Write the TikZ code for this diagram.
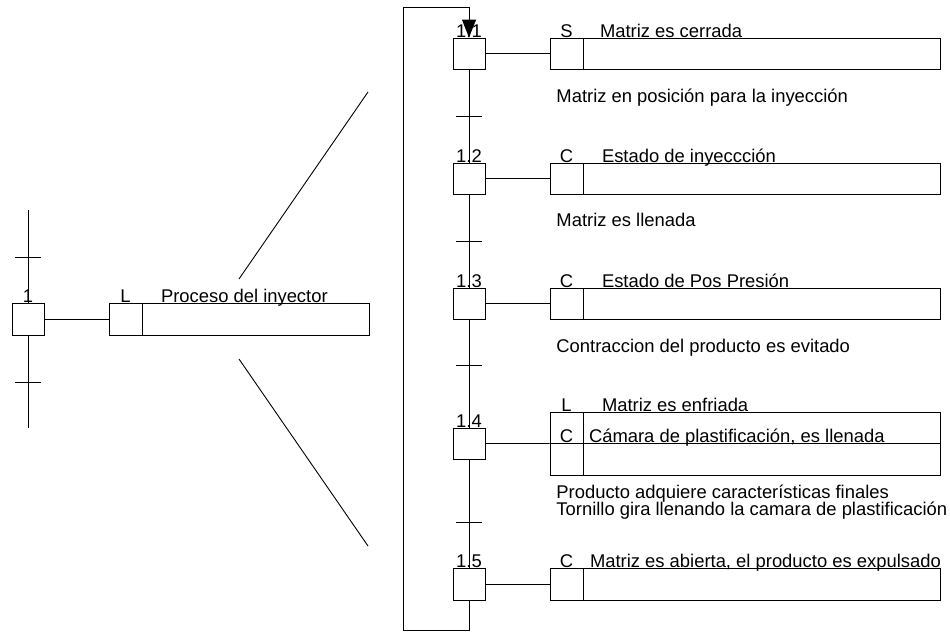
\documentclass[tikz,border=0pt]{standalone}
\usepackage{fontspec}
\setmainfont{Liberation Sans}
\usetikzlibrary{arrows.meta}
\begin{document}
\begin{tikzpicture}[x=1pt,y=-1pt,line width=0.9pt,
  every node/.style={font=\fontsize{18.4}{17}\selectfont},
  stepbox/.style={draw,minimum width=32pt,minimum height=31pt,inner sep=0pt},
  qualbox/.style={draw,minimum width=33pt,minimum height=31pt,inner sep=0pt},
  actbox/.style={draw,minimum width=357pt,minimum height=31pt,inner sep=0pt},
  lbl/.style={inner sep=0pt,anchor=base west},
  clbl/.style={inner sep=0pt,anchor=base}
]
\useasboundingbox (0,0) rectangle (950,632);

% ---------- left overview ----------
\node[stepbox,minimum height=32pt] (s0) at (28,319) {};
\node[qualbox,minimum height=32pt] (q0) at (125.5,319) {};
\node[draw,inner sep=0pt,minimum width=227pt,minimum height=32pt] (a0) at (255.5,319) {};
\coordinate (l0top) at (28,210);
\coordinate (l0bot) at (28,428);
\draw (l0top) -- (s0.north);
\draw (s0.south) -- (l0bot);
\coordinate (k0a) at (28,257);
\coordinate (k0b) at (28,382);
\draw ([xshift=-13pt]k0a) -- ([xshift=13pt]k0a);
\draw ([xshift=-13pt]k0b) -- ([xshift=13pt]k0b);
\draw (s0.east) -- (q0.west);
\node[clbl] at (s0.north) {1};
\node[clbl] at (q0.north) {L};
\node[lbl] at ([xshift=19pt]a0.north west) {Proceso del inyector};

% zoom lines
\coordinate (z1a) at (239,279);
\coordinate (z1b) at (368,92);
\coordinate (z2a) at (239,359);
\coordinate (z2b) at (368,546);
\draw (z1a) -- (z1b);
\draw (z2a) -- (z2b);

% ---------- detailed sequence ----------
\node[stepbox] (s1) at (469,53.5) {};
\node[stepbox] (s2) at (469,178.5) {};
\node[stepbox] (s3) at (469,303.5) {};
\node[stepbox] (s4) at (469,443.5) {};
\node[stepbox,minimum height=32pt] (s5) at (469,584) {};

\node[clbl] at (s1.north) {1.1};
\node[clbl] at (s2.north) {1.2};
\node[clbl] at (s3.north) {1.3};
\node[clbl] at (s4.north) {1.4};
\node[clbl] at (s5.north) {1.5};

% chain
\draw (s1.south) -- (s2.north);
\draw (s2.south) -- (s3.north);
\draw (s3.south) -- (s4.north);
\draw (s4.south) -- (s5.north);
\coordinate (k1) at (469,116);
\coordinate (k2) at (469,241);
\coordinate (k3) at (469,365);
\coordinate (k4) at (469,522);
\foreach \k in {k1,k2,k3,k4}{
  \draw ([xshift=-13pt]\k) -- ([xshift=13pt]\k);
}

% loop back
\coordinate (lb) at (469,630);
\coordinate (ll) at (403,630);
\coordinate (lt) at (403,7);
\coordinate (rt) at (469,7);
\draw[-{Triangle[length=18pt,width=14pt]}] (s5.south) -- (lb) -- (ll) -- (lt) -- (rt) -- (s1.north);

% actions 1.1
\node[qualbox] (q1) at (566.5,53.5) {};
\node[actbox] (a1) at (761.5,53.5) {};
\draw (s1.east) -- (q1.west);
\node[clbl] at (q1.north) {S};
\node[lbl] at ([xshift=17pt]a1.north west) {Matriz es cerrada};
\node[lbl] (c1) at (556,102) {Matriz en posición para la inyección};

% actions 1.2
\node[qualbox] (q2) at (566.5,178.5) {};
\node[actbox] (a2) at (761.5,178.5) {};
\draw (s2.east) -- (q2.west);
\node[clbl] at (q2.north) {C};
\node[lbl] at ([xshift=19pt]a2.north west) {Estado de inyeccción};
\node[lbl] (c2) at (556,226) {Matriz es llenada};

% actions 1.3
\node[qualbox] (q3) at (566.5,303.5) {};
\node[actbox] (a3) at (761.5,303.5) {};
\draw (s3.east) -- (q3.west);
\node[clbl] at (q3.north) {C};
\node[lbl] at ([xshift=19pt]a3.north west) {Estado de Pos Presión};
\node[lbl] (c3) at (556,352) {Contraccion del producto es evitado};

% actions 1.4
\node[qualbox] (q4a) at (566.5,427.5) {};
\node[actbox] (a4a) at (761.5,427.5) {};
\node[qualbox,minimum height=32pt] (q4b) at (566.5,459) {};
\node[actbox,minimum height=32pt] (a4b) at (761.5,459) {};
\draw (s4.east) -- (q4a.south west);
\node[clbl] at (q4a.north) {L};
\node[lbl] at ([xshift=19pt]a4a.north west) {Matriz es enfriada};
\node[clbl] at (q4b.north) {C};
\node[lbl] at ([xshift=6pt]a4b.north west) {Cámara de plastificación, es llenada};
\node[lbl] (c4a) at (556,498) {Producto adquiere características finales};
\node[lbl] (c4b) at (556,515) {Tornillo gira llenando la camara de plastificación};

% actions 1.5
\node[qualbox,minimum height=32pt] (q5) at (566.5,584) {};
\node[actbox,minimum height=32pt] (a5) at (761.5,584) {};
\draw (s5.east) -- (q5.west);
\node[clbl] at (q5.north) {C};
\node[lbl] at ([xshift=7pt]a5.north west) {Matriz es abierta, el producto es expulsado};
\end{tikzpicture}
\end{document}
